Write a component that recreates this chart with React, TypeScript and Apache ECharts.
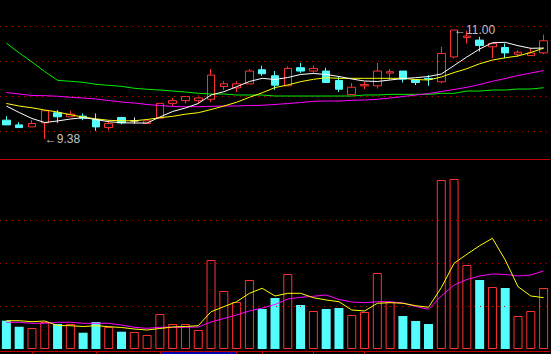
import React, { useEffect, useRef } from "react";
import * as echarts from "echarts";

const days = [
  "01", "02", "03", "04", "05", "06", "07", "08", "09", "10",
  "11", "12", "13", "14", "15", "16", "17", "18", "19", "20",
  "21", "22", "23", "24", "25", "26", "27", "28", "29", "30",
  "31", "32", "33", "34", "35", "36", "37", "38", "39", "40",
  "41", "42", "43",
];

// [open, close, low, high]
const ohlc = [
  [9.66, 9.59, 9.59, 9.72], [9.59, 9.55, 9.55, 9.63], [9.56, 9.61, 9.56, 9.66],
  [9.62, 9.8, 9.38, 9.8], [9.77, 9.71, 9.62, 9.81], [9.71, 9.75, 9.71, 9.8],
  [9.72, 9.69, 9.66, 9.76], [9.67, 9.56, 9.5, 9.76], [9.55, 9.61, 9.51, 9.66],
  [9.7, 9.62, 9.6, 9.71], [9.65, 9.65, 9.61, 9.7], [9.61, 9.65, 9.61, 9.65],
  [9.69, 9.91, 9.69, 9.91], [9.91, 9.95, 9.87, 9.99], [9.95, 10.01, 9.91, 10.01],
  [9.95, 9.99, 9.91, 10.03], [9.97, 10.33, 9.93, 10.42], [10.16, 10.2, 10.11, 10.24],
  [10.14, 10.2, 10.08, 10.24], [10.2, 10.39, 10.2, 10.42], [10.41, 10.35, 10.32, 10.47],
  [10.32, 10.18, 10.11, 10.39], [10.17, 10.43, 10.17, 10.46], [10.44, 10.39, 10.36, 10.51],
  [10.39, 10.43, 10.36, 10.47], [10.39, 10.22, 10.22, 10.44], [10.25, 10.12, 10.08, 10.31],
  [10.04, 10.15, 10.04, 10.21], [10.17, 10.19, 10.12, 10.23], [10.17, 10.39, 10.13, 10.51],
  [10.36, 10.38, 10.26, 10.42], [10.39, 10.27, 10.22, 10.39], [10.26, 10.22, 10.18, 10.26],
  [10.28, 10.27, 10.17, 10.33], [10.23, 10.65, 10.21, 10.75], [10.6, 11.0, 10.58, 11.0],
  [10.89, 10.91, 10.8, 10.99], [10.85, 10.77, 10.68, 10.9], [10.75, 10.8, 10.58, 10.8],
  [10.74, 10.66, 10.58, 10.8], [10.64, 10.67, 10.6, 10.7], [10.62, 10.66, 10.62, 10.73],
  [10.66, 10.84, 10.64, 10.93],
];

const ma5 = [
  9.87, 9.774, 9.685, 9.625, 9.648, 9.677, 9.697, 9.67, 9.637, 9.622,
  9.618, 9.618, 9.707, 9.789, 9.841, 9.908, 10.034, 10.083, 10.157, 10.235,
  10.282, 10.264, 10.294, 10.339, 10.354, 10.339, 10.309, 10.272, 10.242, 10.235,
  10.257, 10.279, 10.291, 10.309, 10.346, 10.472, 10.599, 10.718, 10.811, 10.817,
  10.767, 10.728, 10.732,
];
const ma10 = [
  9.908, 9.87, 9.844, 9.811, 9.781, 9.74, 9.707, 9.68, 9.658, 9.651,
  9.651, 9.67, 9.697, 9.717, 9.749, 9.771, 9.818, 9.87, 9.926, 10.0,
  10.067, 10.145, 10.183, 10.232, 10.267, 10.291, 10.282, 10.282, 10.282, 10.282,
  10.282, 10.282, 10.264, 10.257, 10.301, 10.368, 10.425, 10.499, 10.554, 10.587,
  10.614, 10.666, 10.73,
];
const ma20 = [
  10.071, 10.049, 10.027, 10.024, 10.016, 10.0, 9.989, 9.975, 9.952, 9.93,
  9.915, 9.893, 9.878, 9.863, 9.86, 9.86, 9.866, 9.87, 9.87, 9.878,
  9.881, 9.893, 9.908, 9.922, 9.94, 9.945, 9.945, 9.955, 9.96, 9.97,
  9.989, 10.012, 10.034, 10.056, 10.086, 10.116, 10.148, 10.19, 10.238, 10.279,
  10.324, 10.361, 10.398,
];
const ma60 = [
  10.804, 10.66, 10.524, 10.383, 10.252, 10.238, 10.223, 10.193, 10.178, 10.163,
  10.134, 10.119, 10.108, 10.093, 10.079, 10.059, 10.049, 10.049, 10.034, 10.034,
  10.034, 10.019, 10.019, 10.019, 10.019, 10.019, 10.019, 10.019, 10.034, 10.034,
  10.044, 10.044, 10.044, 10.044, 10.059, 10.059, 10.093, 10.093, 10.108, 10.108,
  10.123, 10.123, 10.142,
];

const volume = [
  658, 519, 488, 628, 581, 581, 379, 628, 512, 402,
  395, 326, 814, 581, 581, 442, 2070, 1349, 1093, 1605,
  930, 1186, 1744, 1023, 884, 930, 953, 791, 860, 1767,
  1093, 767, 651, 581, 3930, 3953, 1953, 1605, 1442, 1419,
  767, 884, 1419,
];
const volMa5 = [
  658, 658, 635, 651, 547, 542, 523, 542, 519, 500,
  465, 442, 477, 512, 523, 542, 867, 984, 1100, 1295,
  1412, 1233, 1295, 1295, 1193, 1140, 1100, 907, 884, 1063,
  1077, 1063, 1007, 970, 1426, 1993, 2202, 2402, 2574, 2070,
  1449, 1233, 1193,
];
const volMa10 = [
  621, 621, 598, 598, 621, 621, 598, 598, 598, 558,
  505, 481, 505, 505, 505, 512, 628, 709, 791, 884,
  953, 1035, 1163, 1202, 1226, 1256, 1151, 1093, 1077, 1100,
  1100, 1070, 988, 923, 1233, 1488, 1616, 1698, 1744, 1733,
  1698, 1721, 1814,
];

const priceGrid = [9.5, 10.02, 10.54, 11.06];
const volumeGrid = [1000, 2000, 3000];
const tickIdx = [2, 7, 12, 18, 20, 24, 28];
const blueSpan = [12, 18];

const RED = "#ff3232";
const CYAN = "#54fcfc";
const AXIS_RED = "#c00000";
const GRID_RED = "#b00000";

export default function App() {
  const ref = useRef<HTMLDivElement>(null);

  useEffect(() => {
    if (!ref.current) return;
    const chart = echarts.init(ref.current, undefined, { renderer: "svg" });

    let lowIdx = 0;
    let highIdx = 0;
    ohlc.forEach((d, i) => {
      if (d[2] < ohlc[lowIdx][2]) lowIdx = i;
      if (d[3] > ohlc[highIdx][3]) highIdx = i;
    });
    const lowVal = ohlc[lowIdx][2];
    const highVal = ohlc[highIdx][3];

    const candleData = ohlc.map((d) =>
      d[0] === d[1]
        ? {
            value: d,
            itemStyle: {
              color: "#ffffff",
              color0: "#ffffff",
              borderColor: "#ffffff",
              borderColor0: "#ffffff",
            },
          }
        : { value: d }
    );

    const volData = volume.map((v, i) => {
      const up = ohlc[i][1] >= ohlc[i][0];
      return {
        value: v,
        itemStyle: up
          ? { color: "#000000", borderColor: RED, borderWidth: 1 }
          : { color: CYAN, borderColor: CYAN, borderWidth: 0 },
      };
    });

    const labelStyle = {
      show: true,
      position: "right" as const,
      distance: 0,
      color: "#c0c0c0",
      fontSize: 12,
      fontFamily: "Liberation Sans",
    };

    const lineSeries = (name: string, data: number[], color: string, axis: number) => ({
      name,
      type: "line" as const,
      data,
      xAxisIndex: axis,
      yAxisIndex: axis,
      symbol: "none",
      silent: true,
      lineStyle: { color, width: 1 },
      itemStyle: { color },
      z: 5,
    });

    const gridMarkLine = (vals: number[]) => ({
      silent: true,
      symbol: ["none", "none"],
      label: { show: false },
      lineStyle: { color: GRID_RED, type: [1, 5] as any, width: 1 },
      data: vals.map((v) => ({ yAxis: v })),
    });

    chart.setOption({
      animation: false,
      backgroundColor: "#000000",
      grid: [
        { left: -1, width: 551, top: 0, height: 159 },
        { left: -1, width: 551, top: 160, height: 189 },
      ],
      xAxis: [
        {
          type: "category",
          data: days,
          gridIndex: 0,
          axisLine: { show: true, onZero: false, lineStyle: { color: AXIS_RED, width: 1 } },
          axisTick: { show: false },
          axisLabel: { show: false },
          splitLine: { show: false },
        },
        {
          type: "category",
          data: days,
          gridIndex: 1,
          offset: 2,
          axisLine: { show: true, onZero: false, lineStyle: { color: AXIS_RED, width: 1 } },
          axisTick: {
            show: true,
            alignWithLabel: true,
            length: 3,
            interval: (i: number) => tickIdx.includes(i),
            lineStyle: { color: AXIS_RED },
          },
          axisLabel: { show: false },
          splitLine: { show: false },
        },
      ],
      yAxis: [
        { type: "value", gridIndex: 0, min: 9.083, max: 11.446, show: false },
        { type: "value", gridIndex: 1, min: 0, max: 4395, show: false },
      ],
      series: [
        {
          name: "K",
          type: "candlestick",
          data: candleData,
          xAxisIndex: 0,
          yAxisIndex: 0,
          barWidth: 8,
          silent: true,
          itemStyle: {
            color: "#000000",
            color0: CYAN,
            borderColor: RED,
            borderColor0: CYAN,
            borderWidth: 1,
          },
          markLine: gridMarkLine(priceGrid),
          markPoint: {
            silent: true,
            symbol: "circle",
            symbolSize: 0,
            data: [
              {
                coord: [lowIdx, lowVal],
                label: { ...labelStyle, formatter: "←" + lowVal.toFixed(2) },
              },
              {
                coord: [highIdx, highVal],
                label: { ...labelStyle, formatter: "←" + highVal.toFixed(2) },
              },
            ],
          },
          z: 3,
        },
        lineSeries("MA60", ma60, "#00ee00", 0),
        lineSeries("MA20", ma20, "#ff00ff", 0),
        lineSeries("MA10", ma10, "#ffff00", 0),
        lineSeries("MA5", ma5, "#ffffff", 0),
        {
          name: "VOL",
          type: "bar",
          data: volData,
          xAxisIndex: 1,
          yAxisIndex: 1,
          barWidth: 9,
          silent: true,
          markLine: gridMarkLine(volumeGrid),
          z: 3,
        },
        lineSeries("VMA10", volMa10, "#ff00ff", 1),
        lineSeries("VMA5", volMa5, "#ffff00", 1),
      ],
    });

    const x1 = chart.convertToPixel({ xAxisIndex: 1 }, blueSpan[0]) as number;
    const x2 = chart.convertToPixel({ xAxisIndex: 1 }, blueSpan[1]) as number;
    chart.setOption({
      graphic: [
        {
          type: "rect",
          shape: { x: x1, y: 352, width: x2 - x1, height: 2 },
          style: { fill: "#0000a8" },
          silent: true,
        },
      ],
    });

    return () => chart.dispose();
  }, []);

  return (
    <div
      ref={ref}
      style={{
        position: "fixed",
        left: 0,
        top: 0,
        width: 551,
        height: 354,
        background: "#000",
      }}
    />
  );
}
